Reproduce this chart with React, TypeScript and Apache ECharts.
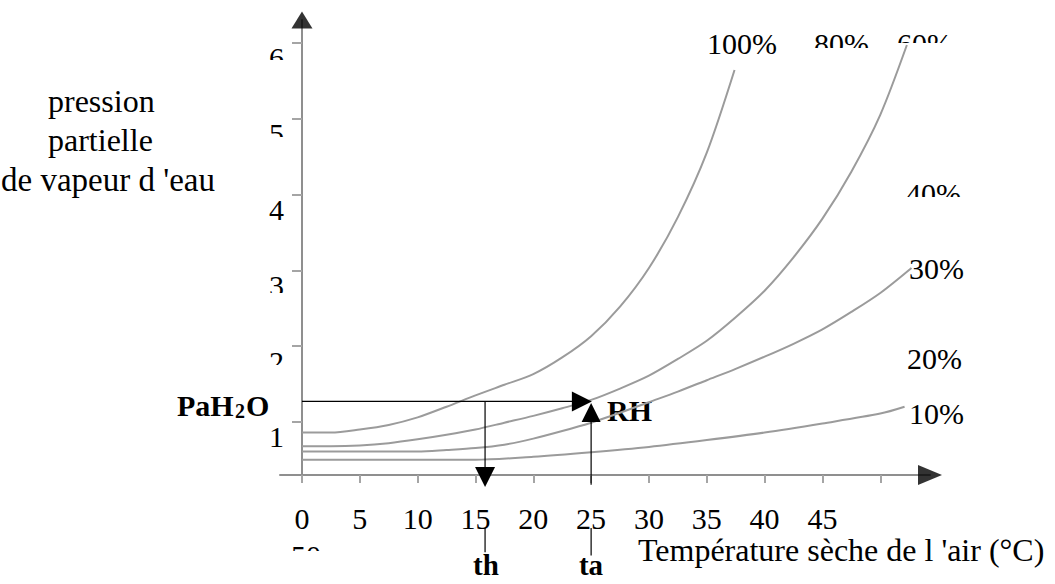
import React, { useEffect, useRef } from "react";
import * as echarts from "echarts";

const FONT = "'Liberation Serif', 'Times New Roman', serif";

// axis ticks / labels
const xTickValues = [0, 5, 10, 15, 20, 25, 30, 35, 40, 45, 50];
const xLabelValues = [0, 5, 10, 15, 20, 25, 30, 35, 40, 45];
const yTickValues = [1, 2, 3, 4, 5, 6];

// relative humidity curves (temperature °C, partial pressure)
const temps100 = [0, 2.5, 5, 7.5, 10, 12.5, 15, 17.5, 20, 22.5, 25, 27.5, 30, 32.5, 35, 37.4];
const pres100 = [0.86, 0.86, 0.9, 0.96, 1.06, 1.2, 1.35, 1.49, 1.63, 1.85, 2.13, 2.52, 3.03, 3.7, 4.55, 5.64];

const temps60 = [0, 2.5, 5, 7.5, 10, 12.5, 15, 17.5, 20, 22.5, 25, 27.5, 30, 32.5, 35, 37.5, 40, 42.5, 45, 47.5, 50, 52.3];
const pres60 = [0.68, 0.68, 0.69, 0.72, 0.77, 0.83, 0.9, 0.99, 1.08, 1.18, 1.29, 1.44, 1.61, 1.83, 2.07, 2.38, 2.73, 3.17, 3.68, 4.3, 5.05, 5.97];

const temps30 = [0, 5, 10, 12.5, 15, 17.5, 20, 22.5, 25, 27.5, 30, 32.5, 35, 37.5, 40, 42.5, 45, 47.5, 50, 52.7];
const pres30 = [0.61, 0.61, 0.61, 0.63, 0.655, 0.7, 0.78, 0.88, 0.99, 1.12, 1.26, 1.4, 1.55, 1.7, 1.86, 2.03, 2.22, 2.45, 2.7, 3.03];

const temps10 = [0, 5, 10, 15, 20, 25, 30, 35, 40, 45, 50, 52.1];
const pres10 = [0.5, 0.5, 0.5, 0.5, 0.54, 0.6, 0.67, 0.76, 0.86, 0.98, 1.11, 1.2];

const rhLabels = ["100%", "80%", "60%", "40%", "30%", "20%", "10%"];

// annotation values
const paH2O = 1.27;
const th = 15.83;
const ta = 25;

const pairs = (xs: number[], ys: number[]) => xs.map((x, i) => [x, ys[i]]);

const curve = (name: string, xs: number[], ys: number[]) => ({
  type: "line",
  name,
  data: pairs(xs, ys),
  symbol: "none",
  smooth: 0.3,
  silent: true,
  lineStyle: { color: "#9b9b9b", width: 2 },
  z: 2,
});

const black = { color: "#000", width: 1.2 };

const txt = (text: string, x: number, y: number, opts: any = {}) => ({
  type: "text",
  x,
  y,
  z: 0,
  silent: true,
  style: {
    text,
    fontFamily: FONT,
    fontSize: opts.fontSize || 30,
    fontWeight: opts.bold ? "bold" : "normal",
    fill: "#000",
    align: opts.align || "left",
    verticalAlign: "middle",
    textAlign: opts.align || "left",
    textVerticalAlign: "middle",
  },
});

const mask = (x: number, y: number, w: number, h: number) => ({
  type: "rect",
  z: 1,
  silent: true,
  shape: { x, y, width: w, height: h },
  style: { fill: "#fff" },
});

export default function App() {
  const ref = useRef<HTMLDivElement>(null);
  useEffect(() => {
    if (!ref.current) return;
    const chart = echarts.init(ref.current, undefined, { renderer: "svg" });
    const option: any = {
      animation: false,
      backgroundColor: "#fff",
      grid: { left: 280, width: 650, top: 20, height: 455, containLabel: false },
      xAxis: {
        type: "value",
        min: -1.9,
        max: 54.3,
        axisLine: { show: true, onZero: true, lineStyle: { color: "#8f8f8f", width: 2 } },
        axisTick: { show: true, customValues: xTickValues, length: 8, lineStyle: { color: "#a5a5a5", width: 2 } },
        axisLabel: {
          customValues: xLabelValues,
          margin: 43,
          verticalAlign: "middle",
          fontFamily: FONT,
          fontSize: 30,
          color: "#000",
        },
        splitLine: { show: false },
      },
      yAxis: {
        type: "value",
        min: 0.3,
        max: 6.3,
        axisLine: { show: true, onZero: true, lineStyle: { color: "#8f8f8f", width: 2 } },
        axisTick: { show: true, customValues: yTickValues, length: 10, lineStyle: { color: "#a5a5a5", width: 2 } },
        axisLabel: {
          customValues: yTickValues,
          margin: -4,
          formatter: (v: number) => "\n" + v,
          lineHeight: 30,
          verticalAlign: "middle",
          fontFamily: FONT,
          fontSize: 30,
          color: "#000",
        },
        splitLine: { show: false },
      },
      series: [
        curve("100%", temps100, pres100),
        curve("60%", temps60, pres60),
        curve("30%", temps30, pres30),
        curve("10%", temps10, pres10),
        // axis arrows
        {
          type: "scatter",
          symbol: "triangle",
          silent: true,
          clip: false,
          itemStyle: { color: "#000" },
          z: 4,
          data: [
            { value: [54.3, 0.3], symbolRotate: -90, symbolSize: [20, 24] },
            { value: [0, 6.3], symbolSize: [21, 17] },
          ],
        },
        // PaH2O horizontal line with arrow
        {
          type: "line",
          symbol: "none",
          silent: true,
          clip: false,
          lineStyle: black,
          itemStyle: { color: "#000" },
          z: 3,
          data: [[0, paH2O], { value: [ta - 0.8, paH2O], symbol: "triangle", symbolSize: [20, 20], symbolRotate: -90 }],
        },
        // th down arrow
        {
          type: "line",
          symbol: "none",
          silent: true,
          clip: false,
          lineStyle: black,
          itemStyle: { color: "#000" },
          z: 3,
          data: [[th, paH2O], { value: [th, 0.274], symbol: "triangle", symbolSize: [20, 20], symbolRotate: 180 }],
        },
        // ta up arrow
        {
          type: "line",
          symbol: "none",
          silent: true,
          clip: false,
          lineStyle: black,
          itemStyle: { color: "#000" },
          z: 3,
          data: [[ta, 0.17], { value: [ta, 1.125], symbol: "triangle", symbolSize: [19, 19] }],
        },
        // connectors to th / ta labels
        {
          type: "line",
          symbol: "none",
          silent: true,
          clip: false,
          lineStyle: black,
          z: 3,
          data: [[th, -0.4], [th, -0.72]],
        },
        {
          type: "line",
          symbol: "none",
          silent: true,
          clip: false,
          lineStyle: black,
          z: 3,
          data: [[ta, -0.4], [ta, -0.76]],
        },
      ],
      graphic: [
        txt("pression", 48, 101, { fontSize: 32 }),
        txt("partielle", 48, 140, { fontSize: 32 }),
        txt("de vapeur d 'eau", 1, 180, { fontSize: 33 }),
        txt(rhLabels[0], 707, 43),
        txt(rhLabels[1], 814, 43),
        txt(rhLabels[2], 897, 43),
        txt(rhLabels[3], 906, 193),
        txt(rhLabels[4], 909, 268),
        txt(rhLabels[5], 907, 358),
        txt(rhLabels[6], 909, 413),
        txt("50", 306, 555, { align: "center" }),
        txt("Température sèche de l 'air (°C)", 638, 550, { fontSize: 32 }),
        txt("PaH", 177, 405, { bold: true }),
        txt("2", 235, 411, { bold: true, fontSize: 20 }),
        txt("O", 246, 405, { bold: true }),
        txt("RH", 607, 410, { bold: true }),
        txt("th", 486, 565, { bold: true, align: "center", fontSize: 29 }),
        txt("ta", 591, 565, { bold: true, align: "center", fontSize: 29 }),
        // clipped glyphs
        mask(812, 48, 60, 12),
        mask(895, 43, 62, 14),
        mask(904, 197, 62, 12),
        mask(262, 60, 28, 10),
        mask(262, 137, 28, 10),
        mask(262, 293, 28, 8),
        mask(262, 365, 28, 10),
        mask(284, 551, 46, 16),
      ],
    };
    chart.setOption(option);
    return () => chart.dispose();
  }, []);
  return (
    <div
      ref={ref}
      style={{ position: "fixed", left: 0, top: 0, width: 1055, height: 584, background: "#fff" }}
    />
  );
}
